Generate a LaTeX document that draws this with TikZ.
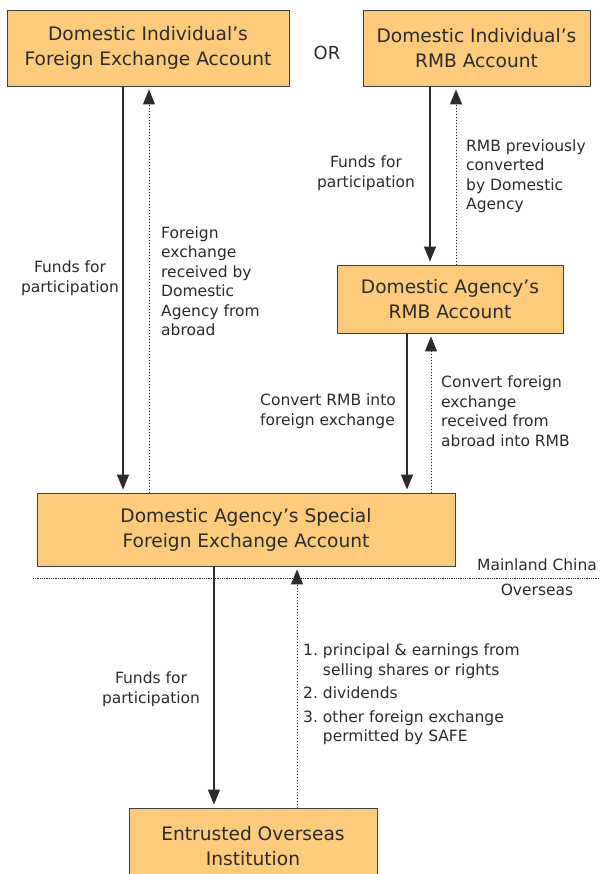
\documentclass[tikz,border=0pt]{standalone}
\usepackage{fontspec}
\setmainfont{DejaVu Sans}
\usetikzlibrary{arrows.meta}
\definecolor{acctfill}{HTML}{FDCB7B}
\definecolor{ink}{HTML}{2B2B2B}
\tikzset{
  account/.style={draw=black!75, line width=0.9pt, fill=acctfill, align=center,
    inner sep=0pt, text=ink, font=\fontsize{18.6}{25}\selectfont},
  note/.style={align=left, inner sep=0pt, text=ink, font=\fontsize{15.5}{19.5}\selectfont},
  fund/.style={->, line width=1.3pt, draw=ink, fill=ink, shorten >=3pt},
  back/.style={->, dotted, line width=1pt, draw=ink, fill=ink, shorten >=3pt},
  >={Triangle[length=15pt,width=12pt]}
}

\begin{document}
\begin{tikzpicture}[x=1pt, y=-1pt]
        \useasboundingbox (0,0) rectangle (599,874);
        % accounts
        \node[account, minimum width=282pt, minimum height=76pt] (indfx) at (148,48) {Domestic Individual’s\\Foreign Exchange Account};
        \node[account, minimum width=227pt, minimum height=76pt] (indrmb) at (476.5,48) {Domestic Individual’s\\RMB Account};
        \node[account, minimum width=226pt, minimum height=68pt] (agrmb) at (450,299) {Domestic Agency’s\\RMB Account};
        \node[account, minimum width=418pt, minimum height=73pt] (agfx) at (246,529.5) {Domestic Agency’s Special\\Foreign Exchange Account};
        \node[account, minimum width=248pt, minimum height=76pt] (inst) at (253,846) {Entrusted Overseas\\Institution};
        \node[text=ink, font=\fontsize{18}{25}\selectfont] (or) at (327,53) {OR};

        % border line
        \coordinate (sepL) at (33,578);
        \coordinate (sepR) at (599,578);
        \draw[densely dotted, line width=0.8pt, ink] (sepL) -- (sepR);
        \node[note] (mainland) at (537,565) {Mainland China};
        \node[note] (overseas) at (537,590) {Overseas};

        % flows
        \draw[fund] ([xshift=-25pt]indfx.south) -- ([xshift=-25pt]indfx.south |- agfx.north);
        \draw[back] ([xshift=1pt]indfx.south |- agfx.north) -- ([xshift=1pt]indfx.south);
        \draw[fund] ([xshift=-46.5pt]indrmb.south) -- ([xshift=-46.5pt]indrmb.south |- agrmb.north);
        \draw[back] ([xshift=-20.5pt]indrmb.south |- agrmb.north) -- ([xshift=-20.5pt]indrmb.south);
        \draw[fund] ([xshift=-43pt]agrmb.south) -- ([xshift=-43pt]agrmb.south |- agfx.north);
        \draw[back] ([xshift=-19pt]agrmb.south |- agfx.north) -- ([xshift=-19pt]agrmb.south);
        \draw[fund] ([xshift=-32pt]agfx.south) -- ([xshift=-32pt]agfx.south |- inst.north);
        \draw[back] ([xshift=51pt]agfx.south |- inst.north) -- ([xshift=51pt]agfx.south);

        % labels
        \node[note, align=center] (fundA) at (70,278) {Funds for\\participation};
        \node[note, anchor=west] (recvA) at (161,281) {Foreign\\exchange\\received by\\Domestic\\Agency from\\abroad};
        \node[note, align=center] (fundB) at (366,173) {Funds for\\participation};
        \node[note, anchor=west] (prevB) at (466,176) {RMB previously\\converted\\by Domestic\\Agency};
        \node[note, anchor=west] (convC) at (260,411) {Convert RMB into\\foreign exchange};
        \node[note, anchor=west] (backC) at (441,411) {Convert foreign\\exchange\\received from\\abroad into RMB};
        \node[note, align=center] (fundD) at (151,689) {Funds for\\participation};
        \node[note, anchor=west] (items) at (303,695) {%
          \begin{tabular}{@{}l@{\hspace{5pt}}l@{}}
            1. & principal \& earnings from\\
               & selling shares or rights\\[4pt]
            2. & dividends\\[4pt]
            3. & other foreign exchange\\
               & permitted by SAFE
          \end{tabular}};
      \end{tikzpicture}
\end{document}
